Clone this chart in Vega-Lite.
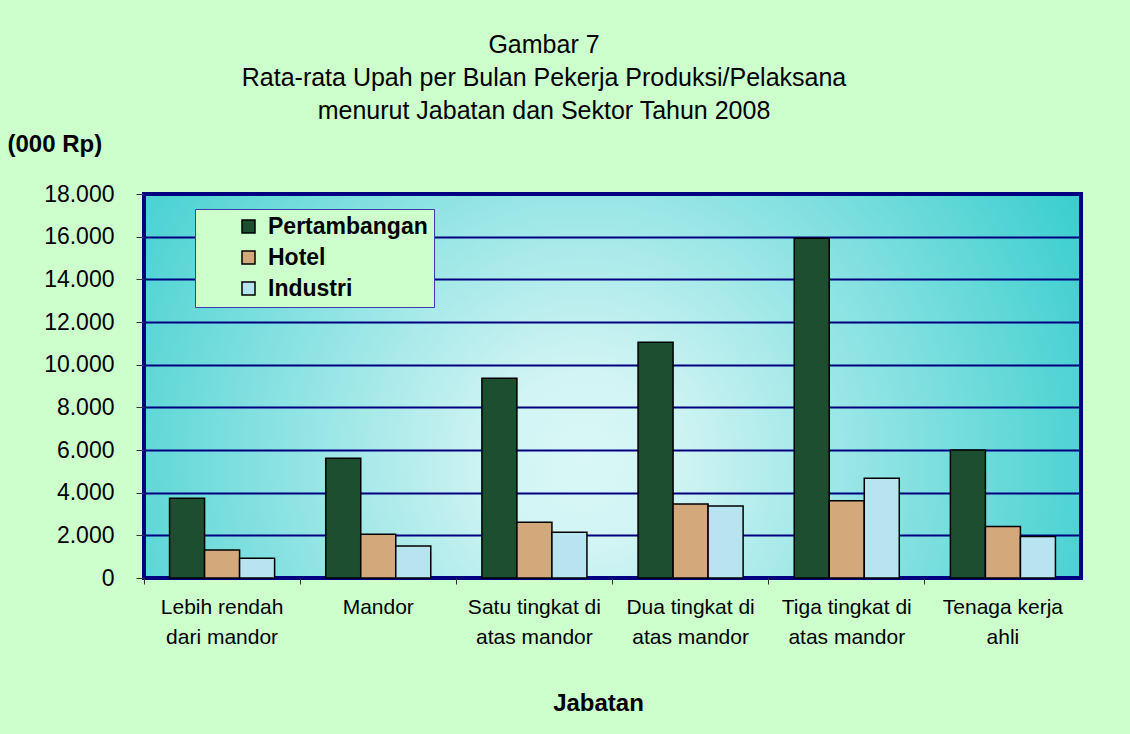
{
  "$schema": "https://vega.github.io/schema/vega-lite/v6.json",
  "width": 937,
  "height": 384,
  "autosize": {"type": "none"},
  "padding": {"left": 144, "top": 194, "right": 49, "bottom": 156},
  "background": "#CCFFCC",
  "title": {
    "text": ["Gambar 7", "Rata-rata Upah per Bulan Pekerja Produksi/Pelaksana", "menurut Jabatan dan Sektor Tahun 2008"],
    "font": "Liberation Sans",
    "fontSize": 25,
    "fontWeight": "normal",
    "color": "#000000",
    "lineHeight": 33,
    "anchor": "middle",
    "frame": "bounds",
    "offset": 8
  },
  "data": {
    "values": [
      {"jabatan": "Lebih rendah dari mandor", "sektor": "Pertambangan", "upah": 3740},
      {"jabatan": "Lebih rendah dari mandor", "sektor": "Hotel", "upah": 1310},
      {"jabatan": "Lebih rendah dari mandor", "sektor": "Industri", "upah": 920},
      {"jabatan": "Mandor", "sektor": "Pertambangan", "upah": 5610},
      {"jabatan": "Mandor", "sektor": "Hotel", "upah": 2050},
      {"jabatan": "Mandor", "sektor": "Industri", "upah": 1500},
      {"jabatan": "Satu tingkat di atas mandor", "sektor": "Pertambangan", "upah": 9360},
      {"jabatan": "Satu tingkat di atas mandor", "sektor": "Hotel", "upah": 2610},
      {"jabatan": "Satu tingkat di atas mandor", "sektor": "Industri", "upah": 2140},
      {"jabatan": "Dua tingkat di atas mandor", "sektor": "Pertambangan", "upah": 11050},
      {"jabatan": "Dua tingkat di atas mandor", "sektor": "Hotel", "upah": 3470},
      {"jabatan": "Dua tingkat di atas mandor", "sektor": "Industri", "upah": 3380},
      {"jabatan": "Tiga tingkat di atas mandor", "sektor": "Pertambangan", "upah": 15920},
      {"jabatan": "Tiga tingkat di atas mandor", "sektor": "Hotel", "upah": 3620},
      {"jabatan": "Tiga tingkat di atas mandor", "sektor": "Industri", "upah": 4670},
      {"jabatan": "Tenaga kerja ahli", "sektor": "Pertambangan", "upah": 6000},
      {"jabatan": "Tenaga kerja ahli", "sektor": "Hotel", "upah": 2410},
      {"jabatan": "Tenaga kerja ahli", "sektor": "Industri", "upah": 1940}
    ]
  },
  "mark": {"type": "bar", "stroke": "#000000", "strokeWidth": 1.5},
  "encoding": {
    "x": {
      "field": "jabatan",
      "type": "nominal",
      "sort": null,
      "scale": {"paddingInner": 0, "paddingOuter": 0},
      "axis": {
        "title": "Jabatan",
        "titleFont": "Liberation Sans",
        "titleFontSize": 24,
        "titleFontWeight": "bold",
        "titleColor": "#000000",
        "titlePadding": 44,
        "titleX": 454,
        "labelAngle": 0,
        "labelFont": "Liberation Sans",
        "labelFontSize": 21,
        "labelColor": "#000000",
        "labelLineHeight": 30,
        "labelPadding": 12,
        "labelLimit": 300,
        "labelExpr": "datum.value == 'Lebih rendah dari mandor' ? ['Lebih rendah', 'dari mandor'] : datum.value == 'Satu tingkat di atas mandor' ? ['Satu tingkat di', 'atas mandor'] : datum.value == 'Dua tingkat di atas mandor' ? ['Dua tingkat di', 'atas mandor'] : datum.value == 'Tiga tingkat di atas mandor' ? ['Tiga tingkat di', 'atas mandor'] : datum.value == 'Tenaga kerja ahli' ? ['Tenaga kerja', 'ahli'] : datum.value",
        "bandPosition": 0,
        "tickSize": 6,
        "tickColor": "#333333",
        "domain": false,
        "grid": false
      }
    },
    "xOffset": {
      "field": "sektor",
      "type": "nominal",
      "sort": ["Pertambangan", "Hotel", "Industri"],
      "scale": {"paddingInner": 0, "paddingOuter": 0.73}
    },
    "y": {
      "field": "upah",
      "type": "quantitative",
      "scale": {"domain": [0, 18000], "nice": false},
      "axis": {
        "values": [0, 2000, 4000, 6000, 8000, 10000, 12000, 14000, 16000, 18000],
        "title": "(000 Rp)",
        "titleAngle": 0,
        "titleAlign": "left",
        "titleBaseline": "middle",
        "titleX": -137,
        "titleY": -50,
        "titleFont": "Liberation Sans",
        "titleFontSize": 24,
        "titleFontWeight": "bold",
        "titleColor": "#000000",
        "labelExpr": "replace(format(datum.value, ','), ',', '.')",
        "labelFont": "Liberation Sans",
        "labelFontSize": 23,
        "labelColor": "#000000",
        "labelPadding": 22,
        "tickSize": 8,
        "tickColor": "#333333",
        "gridColor": "#000080",
        "gridWidth": 2,
        "domain": false
      }
    },
    "color": {
      "field": "sektor",
      "type": "nominal",
      "scale": {
        "domain": ["Pertambangan", "Hotel", "Industri"],
        "range": ["#1B4F30", "#D3A97C", "#B8E4F0"]
      },
      "legend": {
        "orient": "none",
        "legendX": 51,
        "legendY": 15,
        "direction": "vertical",
        "title": null,
        "fillColor": "#CCFFCC",
        "strokeColor": "#3C3CAA",
        "padding": 6,
        "symbolType": "square",
        "symbolSize": 169,
        "symbolStrokeColor": "#000000",
        "symbolStrokeWidth": 1.5,
        "symbolOffset": 36,
        "labelFont": "Liberation Sans",
        "labelFontSize": 23,
        "labelFontWeight": "bold",
        "labelColor": "#000000",
        "labelOffset": 8,
        "labelLimit": 400,
        "rowPadding": 7
      }
    }
  },
  "config": {
    "view": {
      "fill": {
        "gradient": "radial",
        "x1": 0.47, "y1": 0.58, "r1": 0,
        "x2": 0.47, "y2": 0.58, "r2": 0.62,
        "stops": [
          {"offset": 0, "color": "#D9F7F7"},
          {"offset": 0.15, "color": "#D2F4F4"},
          {"offset": 1, "color": "#33CCCC"}
        ]
      },
      "stroke": "#000080",
      "strokeWidth": 4
    }
  }
}
